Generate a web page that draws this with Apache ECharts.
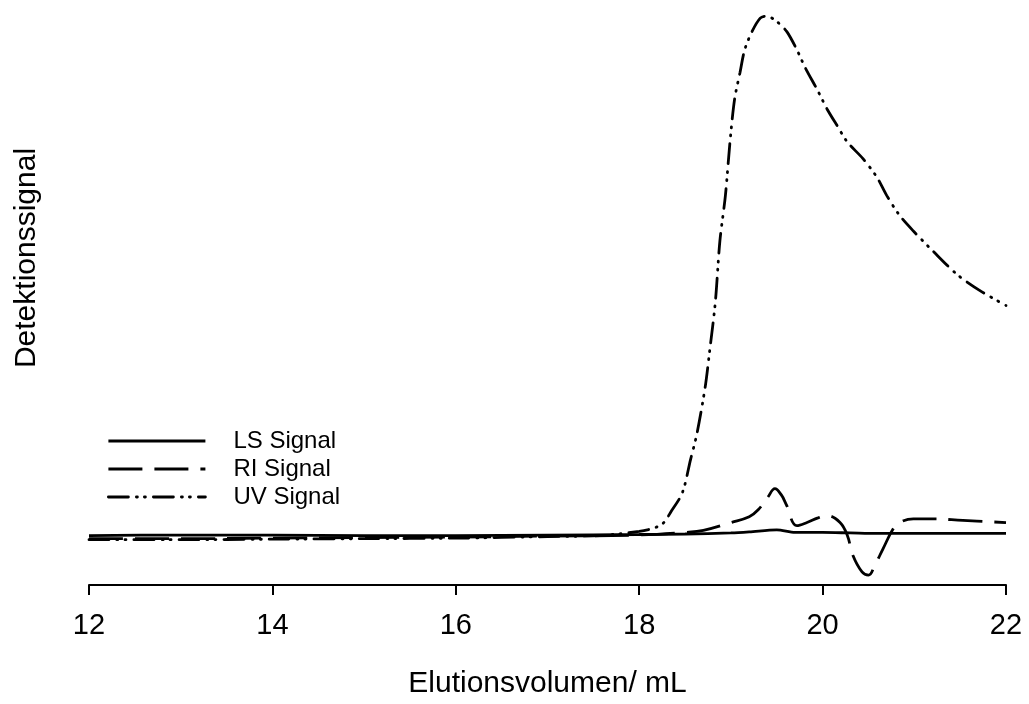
<!DOCTYPE html>
<html>
<head>
<meta charset="utf-8">
<script src="https://cdn.jsdelivr.net/npm/echarts@6/dist/echarts.min.js"></script>
<style>
html,body{margin:0;padding:0;background:#fff;}
#chart{width:1029px;height:704px;}
</style>
</head>
<body>
<div id="chart"></div>
<script>
// X tick labels
var xTicks = [12, 14, 16, 18, 20, 22];

// LS signal
var lsVolume = [12, 13, 14, 15, 16, 17, 18, 18.5, 19.0, 19.2, 19.5, 19.7, 20.0, 20.3, 20.6, 21.0, 21.5, 22.0];
var lsSignal = [0, 0.1, 0.1, 0, 0, 0.1, 0.2, 0.3, 0.5, 0.7, 1.1, 0.6, 0.6, 0.5, 0.4, 0.4, 0.4, 0.4];

// RI signal
var riVolume = [12, 13, 14, 15, 16, 17, 18, 18.5, 18.7, 19.0, 19.2, 19.3, 19.4, 19.48, 19.55, 19.6, 19.72, 19.83, 19.95, 20.05, 20.19, 20.27, 20.33, 20.43, 20.5, 20.57, 20.66, 20.77, 20.84, 20.99, 21.2, 21.53, 22.0];
var riSignal = [-0.6, -0.6, -0.5, -0.4, -0.3, -0.1, 0.1, 0.6, 1.0, 2.5, 3.6, 5.0, 7.3, 9.0, 7.8, 6.1, 1.9, 2.5, 3.4, 3.8, 2.5, 0, -3.8, -7.0, -7.6, -5.7, -2.5, 1.3, 2.5, 3.2, 3.2, 2.9, 2.5];

// UV signal
var uvVolume = [12, 13, 14, 15, 16, 17, 17.57, 18.0, 18.17, 18.27, 18.34, 18.47, 18.56, 18.63, 18.72, 18.77, 18.83, 18.88, 18.94, 18.99, 19.04, 19.10, 19.15, 19.23, 19.32, 19.39, 19.51, 19.61, 19.72, 19.81, 19.94, 20.05, 20.16, 20.27, 20.44, 20.59, 20.70, 20.84, 20.99, 21.20, 21.47, 21.72, 22.0];
var uvSignal = [-0.8, -0.8, -0.7, -0.6, -0.5, -0.2, 0, 0.8, 1.5, 2.5, 4.4, 8.2, 14.6, 19.6, 28.6, 35.7, 44.8, 56.6, 65.3, 75.6, 83.8, 89.0, 93.3, 96.8, 99.4, 99.8, 98.6, 96.8, 93.3, 89.9, 85.7, 81.9, 78.7, 75.6, 72.4, 68.9, 65.3, 61.5, 58.5, 54.7, 50.1, 47.0, 44.2];

function zip(xs, ys) { return xs.map(function (x, i) { return [x, ys[i]]; }); }

var FONT = 'Liberation Sans, Arial, Helvetica, sans-serif';
var chart = echarts.init(document.getElementById('chart'));
chart.setOption({
  backgroundColor: '#ffffff',
  animation: false,
  grid: { left: 89, right: 23, top: 15, bottom: 114, containLabel: false },
  legend: {
    orient: 'vertical',
    left: 107,
    top: 429,
    padding: 0,
    itemWidth: 97,
    itemHeight: 24,
    itemGap: 4,
    data: ['LS Signal', 'RI Signal', 'UV Signal'],
    itemStyle: { opacity: 0 },
    lineStyle: { width: 2.8 },
    textStyle: { fontFamily: FONT, fontSize: 24, color: '#000', padding: [0, 0, 0, 23] }
  },
  xAxis: {
    type: 'value',
    min: 12, max: 22, interval: 2,
    name: 'Elutionsvolumen/ mL',
    nameLocation: 'middle',
    nameGap: 84,
    nameTextStyle: { fontFamily: FONT, fontSize: 30, color: '#000' },
    axisLine: { show: true, onZero: false, lineStyle: { color: '#000', width: 2 } },
    axisTick: { show: true, length: 10, lineStyle: { color: '#000', width: 2 } },
    axisLabel: {
      fontFamily: FONT, fontSize: 29, color: '#000', margin: 26,
      formatter: function (v) { return xTicks.indexOf(v) >= 0 ? String(v) : ''; }
    },
    splitLine: { show: false }
  },
  yAxis: {
    type: 'value',
    min: -9.5, max: 100,
    show: true,
    axisLine: { show: false },
    axisTick: { show: false },
    axisLabel: { show: false },
    splitLine: { show: false }
  },
  graphic: [{
    type: 'text',
    x: 27, y: 258,
    rotation: Math.PI / 2,
    style: {
      text: 'Detektionssignal',
      font: '30px ' + FONT,
      fill: '#000',
      textAlign: 'center',
      textVerticalAlign: 'middle'
    }
  }],
  series: [
    {
      name: 'LS Signal', type: 'line', symbol: 'none', smooth: 0.3,
      lineStyle: { color: '#000', width: 2.8, type: 'solid' },
      itemStyle: { color: '#000' },
      data: zip(lsVolume, lsSignal)
    },
    {
      name: 'RI Signal', type: 'line', symbol: 'none', smooth: 0.4,
      lineStyle: { color: '#000', width: 2.8, type: [34, 12] },
      itemStyle: { color: '#000' },
      data: zip(riVolume, riSignal)
    },
    {
      name: 'UV Signal', type: 'line', symbol: 'none', smooth: 0.3,
      lineStyle: { color: '#000', width: 2.8, type: [20, 8, 1, 7, 1, 8], cap: 'round' },
      itemStyle: { color: '#000' },
      data: zip(uvVolume, uvSignal)
    }
  ]
});
</script>
</body>
</html>
